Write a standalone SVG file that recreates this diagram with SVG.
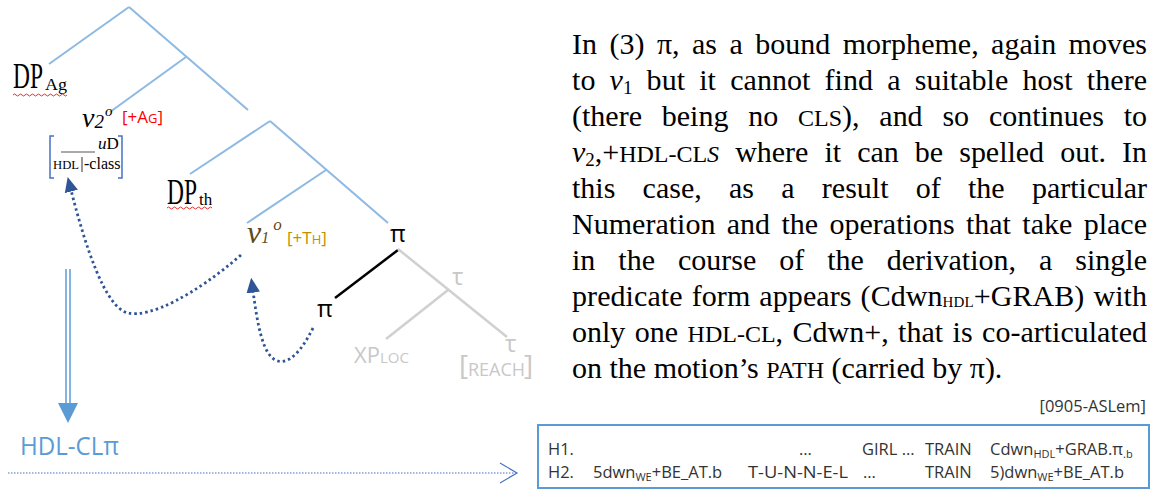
<svg xmlns="http://www.w3.org/2000/svg" width="1155" height="494" viewBox="0 0 1155 494">
<defs>
<style>
.tree{stroke:#8db9e2;stroke-width:2;fill:none}
.gray{stroke:#d0d0d0;stroke-width:2.5;fill:none}
.blk{stroke:#000;stroke-width:2.5;fill:none}
.dot{stroke:#2f5597;stroke-width:2.8;stroke-dasharray:2.5 3;fill:none}
.wavy{stroke:#e03030;stroke-width:1;fill:none}
.serif{font-family:"Liberation Serif","Times New Roman",serif}
.sans{font-family:"Open Sans","Noto Sans","DejaVu Sans",sans-serif}
.para{font-family:"Liberation Serif","Times New Roman",serif;font-size:30px;fill:#000}
.box{font-family:"Open Sans","Noto Sans",sans-serif;font-size:16.5px;fill:#333}
.it{font-style:italic}
</style>
<marker id="ah" viewBox="0 0 10 10" refX="1" refY="5" markerWidth="15" markerHeight="15" markerUnits="userSpaceOnUse" orient="auto">
<path d="M0,0.5 L10,5 L0,9.5 z" fill="#2f5597"/>
</marker>
</defs>
<rect width="1155" height="494" fill="#fff"/>

<g id="connectors">
<line class="tree" x1="129" y1="7" x2="49" y2="64"/>
<line class="tree" x1="129" y1="7" x2="248" y2="110"/>
<line class="tree" x1="186" y1="57" x2="110" y2="112"/>
<line class="tree" x1="270" y1="121" x2="190" y2="174"/>
<line class="tree" x1="270" y1="121" x2="388" y2="223"/>
<line class="tree" x1="326" y1="170" x2="247" y2="223"/>
<line class="blk" x1="398" y1="250" x2="335" y2="298"/>
<line class="gray" x1="398" y1="249" x2="507" y2="337"/>
<line class="gray" x1="448" y1="290" x2="386" y2="339"/>
<path class="dot" d="M241,255 C195,295 150,318 128,313 C105,308 85,245 71,190" marker-end="url(#ah)"/>
<path class="dot" d="M313,328 C302,350 290,364 278,361 C262,357 257,320 253,291" marker-end="url(#ah)"/>
<line x1="66" y1="269" x2="66" y2="404" stroke="#5b9bd5" stroke-width="1.5"/>
<line x1="70" y1="269" x2="70" y2="404" stroke="#5b9bd5" stroke-width="1.5"/>
<polygon points="58,403 78,403 68,423" fill="#5b9bd5"/>
<line x1="8" y1="473" x2="516" y2="473" stroke="#4472c4" stroke-width="1" stroke-dasharray="1.5 1.5"/>
<polyline points="500,463 517,473 500,483" fill="none" stroke="#4472c4" stroke-width="1.2"/>
</g>

<g id="dp-ag">
<text class="serif" x="13" y="88" font-size="35" textLength="30" lengthAdjust="spacingAndGlyphs">DP</text>
<text class="serif" x="45" y="90" font-size="16" textLength="22" lengthAdjust="spacingAndGlyphs">Ag</text>
<path class="wavy" d="M13,95 q1.5,-2 3,0 t3,0 t3,0 t3,0 t3,0 t3,0 t3,0 t3,0 t3,0 t3,0 t3,0 t3,0 t3,0 t3,0 t3,0 t3,0 t3,0 t3,0"/>
</g>

<g id="v2">
<text class="serif" x="82" y="127" fill="#000"><tspan class="it" font-size="28">v</tspan><tspan class="it" font-size="19" dy="1">2</tspan><tspan class="it" font-size="15" dy="-12" dx="1">o</tspan></text>
<text class="sans" x="122" y="123" fill="#ff0000" font-size="17">[+A<tspan font-size="13">G</tspan>]</text>
</g>

<g id="feature-matrix">
<path d="M54,136 L50,136 L50,178 L54,178" fill="none" stroke="#4472c4" stroke-width="1.5"/>
<path d="M118,136 L122,136 L122,178 L118,178" fill="none" stroke="#4472c4" stroke-width="1.5"/>
<line x1="61" y1="152" x2="95" y2="152" stroke="#555" stroke-width="1"/>
<text class="serif" x="98" y="149" font-size="17"><tspan class="it">u</tspan>D</text>
<text class="serif" x="53" y="169" font-size="13" textLength="26" lengthAdjust="spacingAndGlyphs">HDL</text>
<line x1="82" y1="157" x2="82" y2="172" stroke="#333" stroke-width="1"/>
<text class="serif" x="84" y="169" font-size="16">-class</text>
</g>

<g id="dp-th">
<text class="serif" x="167" y="204" font-size="35" textLength="30" lengthAdjust="spacingAndGlyphs">DP</text>
<text class="serif" x="199" y="205" font-size="17">th</text>
<path class="wavy" d="M167,208 q1.5,-2 3,0 t3,0 t3,0 t3,0 t3,0 t3,0 t3,0 t3,0 t3,0 t3,0 t3,0 t3,0 t3,0 t3,0 t3,0"/>
</g>

<g id="v1">
<text class="serif" x="247" y="243" fill="#5c4a1a"><tspan class="it" font-size="32">v</tspan><tspan class="it" font-size="16">1</tspan><tspan class="it" font-size="17" dy="-13" dx="4">o</tspan></text>
<text class="sans" x="287" y="244" fill="#bf9000" font-size="17">[+T<tspan font-size="13">H</tspan>]</text>
</g>

<g id="pi-top"><text class="sans" x="390" y="242" font-size="24" fill="#000">π</text></g>
<g id="pi-bottom"><text class="sans" x="317" y="317" font-size="24" fill="#000">π</text></g>
<g id="tau-mid"><text class="sans" x="452" y="285" font-size="24" fill="#c8c8c8">τ</text></g>
<g id="xp-loc"><text class="sans" x="354" y="363" font-size="22" fill="#c8c8c8">XP<tspan font-size="15">LOC</tspan></text></g>
<g id="tau-reach">
<text class="sans" x="505" y="352" font-size="24" fill="#c8c8c8">τ</text>
<text class="sans" x="459" y="375" font-size="28" fill="#c8c8c8">[</text>
<text class="sans" x="468" y="376" font-size="18" fill="#c8c8c8">REACH</text>
<text class="sans" x="524" y="375" font-size="28" fill="#c8c8c8">]</text>
</g>

<g id="hdl-cl-pi"><text class="sans" x="20" y="455" font-size="26" fill="#5b9bd5" textLength="99" lengthAdjust="spacingAndGlyphs">HDL-CLπ</text></g>

<g id="paragraph" class="para">
<text x="572" y="54" word-spacing="4.9" textLength="575" lengthAdjust="spacing">In (3) π, as a bound morpheme, again moves</text>
<text x="572" y="90" word-spacing="6.6" textLength="575" lengthAdjust="spacing">to <tspan class="it">v</tspan><tspan font-size="19" dy="4">1</tspan><tspan dy="-4"> but it cannot find a suitable host there</tspan></text>
<text x="572" y="126" word-spacing="12.3" textLength="575" lengthAdjust="spacing">(there being no <tspan font-size="24">CLS</tspan>), and so continues to</text>
<text x="572" y="162" word-spacing="8.6" textLength="575" lengthAdjust="spacing"><tspan class="it">v</tspan><tspan font-size="19" dy="4">2</tspan><tspan dy="-4">,+</tspan><tspan font-size="24">HDL-CL</tspan><tspan font-size="24" class="it">S</tspan> where it can be spelled out. In</text>
<text x="572" y="198" word-spacing="19.7" textLength="575" lengthAdjust="spacing">this case, as a result of the particular</text>
<text x="572" y="234" word-spacing="3.8" textLength="575" lengthAdjust="spacing">Numeration and the operations that take place</text>
<text x="572" y="270" word-spacing="15.4" textLength="575" lengthAdjust="spacing">in the course of the derivation, a single</text>
<text x="572" y="306" word-spacing="1.5" textLength="575" lengthAdjust="spacing">predicate form appears (Cdwn<tspan font-size="15" dy="1">HDL</tspan><tspan dy="-1">+GRAB) with</tspan></text>
<text x="572" y="342" word-spacing="2" textLength="575" lengthAdjust="spacing">only one <tspan font-size="24">HDL-CL</tspan>, Cdwn+, that is co-articulated</text>
<text x="572" y="378">on the motion’s <tspan font-size="24">PATH</tspan> (carried by π).</text>
</g>

<g id="source"><text class="box" x="1146" y="412" text-anchor="end">[0905-ASLem]</text></g>

<g id="example-box">
<rect x="538" y="425" width="611" height="63" fill="#fff" stroke="#5b9bd5" stroke-width="2"/>
<text class="box" x="548" y="455">H1.</text>
<text class="box" x="799" y="455">…</text>
<text class="box" x="862" y="455">GIRL …</text>
<text class="box" x="925" y="455">TRAIN</text>
<text class="box" x="990" y="455">Cdwn<tspan font-size="11" dy="3">HDL</tspan><tspan dy="-3">+GRAB.π</tspan><tspan font-size="11" dy="3">.b</tspan></text>
<text class="box" x="548" y="478">H2.</text>
<text class="box" x="593" y="478">5dwn<tspan font-size="11" dy="3">WE</tspan><tspan dy="-3">+BE_AT.b</tspan></text>
<text class="box" x="748" y="478" textLength="100" lengthAdjust="spacingAndGlyphs">T-U-N-N-E-L</text>
<text class="box" x="863" y="478">…</text>
<text class="box" x="925" y="478">TRAIN</text>
<text class="box" x="990" y="478">5)dwn<tspan font-size="11" dy="3">WE</tspan><tspan dy="-3">+BE_AT.b</tspan></text>
</g>
</svg>
